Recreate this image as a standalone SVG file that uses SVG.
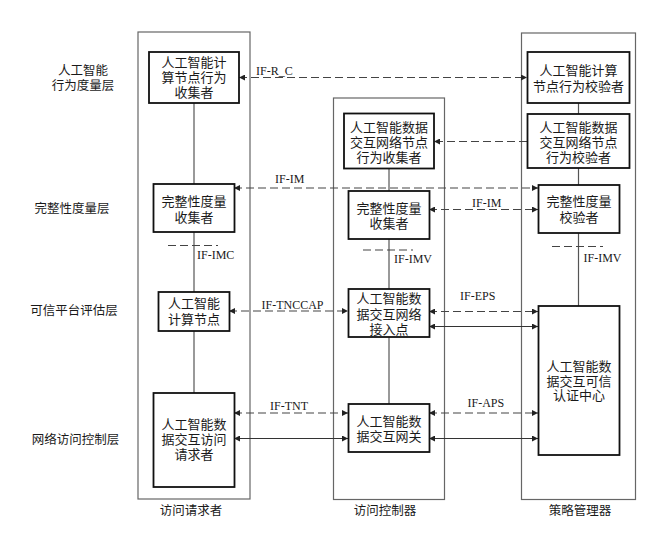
<svg xmlns="http://www.w3.org/2000/svg" width="656" height="535" viewBox="0 0 656 535">
<defs>
<style>
.outer{fill:none;stroke:#666;stroke-width:1.2}
.node{fill:#fff;stroke:#111;stroke-width:1.8}
.cn{font-family:"Liberation Serif","Noto Sans CJK SC",sans-serif;font-size:13px;fill:#1a1a1a;text-anchor:middle;dominant-baseline:central}
.row{font-family:"Liberation Serif","Noto Sans CJK SC",sans-serif;font-size:12.5px;fill:#1a1a1a;text-anchor:middle;dominant-baseline:central}
.lbl{font-family:"Liberation Serif","Times New Roman",serif;font-size:12px;fill:#1a1a1a}
.v{stroke:#555;stroke-width:1.2;fill:none}
.d{stroke:#444;stroke-width:1.2;stroke-dasharray:8 4;fill:none}
.s{stroke:#333;stroke-width:1.2;fill:none}
</style>
<marker id="ah" viewBox="0 0 10 10" refX="10" refY="5" markerWidth="9" markerHeight="6" markerUnits="userSpaceOnUse" orient="auto-start-reverse">
<path d="M0,0 L10,5 L0,10 z" fill="#222"/>
</marker>
</defs>
<rect width="656" height="535" fill="#fff"/>

<g id="row-labels">
<text class="row" x="83" y="70.5">人工智能<tspan x="83" dy="15">行为度量层</tspan></text>
<text class="row" x="72" y="209">完整性度量层</text>
<text class="row" x="74" y="311">可信平台评估层</text>
<text class="row" x="75.5" y="439.5">网络访问控制层</text>
</g>

<g id="access-requester">
<rect class="outer" x="138" y="32" width="112" height="467"/>
<text class="row" x="191" y="511">访问请求者</text>
</g>
<g id="access-controller">
<rect class="outer" x="333.5" y="98" width="111" height="401.5"/>
<text class="row" x="385" y="511">访问控制器</text>
</g>
<g id="policy-manager">
<rect class="outer" x="521.5" y="33" width="114" height="466.5"/>
<text class="row" x="580" y="511">策略管理器</text>
</g>

<g id="connectors">
<line class="v" x1="194" y1="103" x2="194" y2="184"/>
<line class="v" x1="194" y1="232" x2="194" y2="292"/>
<line class="v" x1="194" y1="331" x2="194" y2="393"/>
<line class="v" x1="389" y1="169" x2="389" y2="191"/>
<line class="v" x1="389" y1="239" x2="389" y2="289"/>
<line class="v" x1="389" y1="337" x2="389" y2="404"/>
<line class="v" x1="578.5" y1="103" x2="578.5" y2="114"/>
<line class="v" x1="578.5" y1="168" x2="578.5" y2="185"/>
<line class="v" x1="578.5" y1="233" x2="578.5" y2="306"/>

<line class="d" x1="168" y1="245.5" x2="218" y2="245.5"/>
<line class="d" x1="363" y1="250" x2="413" y2="250"/>
<line class="d" x1="552" y1="246.5" x2="603" y2="246.5"/>

<line class="d" x1="239" y1="77.5" x2="527" y2="77.5" marker-start="url(#ah)" marker-end="url(#ah)"/>
<line class="d" x1="527" y1="141.5" x2="434" y2="141.5" marker-end="url(#ah)"/>
<line class="d" x1="234" y1="188" x2="538" y2="188" marker-start="url(#ah)" marker-end="url(#ah)"/>
<line class="d" x1="429" y1="209.5" x2="538" y2="209.5" marker-start="url(#ah)" marker-end="url(#ah)"/>
<line class="d" x1="229" y1="311" x2="348" y2="311" marker-start="url(#ah)" marker-end="url(#ah)"/>
<line class="d" x1="429" y1="311.5" x2="538" y2="311.5" marker-start="url(#ah)" marker-end="url(#ah)"/>
<line class="s" x1="429" y1="326.5" x2="538" y2="326.5" marker-start="url(#ah)" marker-end="url(#ah)"/>
<line class="d" x1="234" y1="413" x2="348" y2="413" marker-start="url(#ah)" marker-end="url(#ah)"/>
<line class="s" x1="234" y1="438.5" x2="348" y2="438.5" marker-start="url(#ah)" marker-end="url(#ah)"/>
<line class="d" x1="429" y1="413" x2="538" y2="413" marker-start="url(#ah)" marker-end="url(#ah)"/>
<line class="s" x1="429" y1="438.5" x2="538" y2="438.5" marker-start="url(#ah)" marker-end="url(#ah)"/>

<text class="lbl" x="256" y="74.5">IF-R_C</text>
<text class="lbl" x="275" y="183">IF-IM</text>
<text class="lbl" x="472" y="206.5">IF-IM</text>
<text class="lbl" x="197" y="259">IF-IMC</text>
<text class="lbl" x="394" y="263">IF-IMV</text>
<text class="lbl" x="583.5" y="261.5">IF-IMV</text>
<text class="lbl" x="261.5" y="308.5">IF-TNCCAP</text>
<text class="lbl" x="460" y="299.5">IF-EPS</text>
<text class="lbl" x="270" y="410">IF-TNT</text>
<text class="lbl" x="467.5" y="406.5">IF-APS</text>
</g>

<g id="ai-node-behavior-collector">
<rect class="node" x="149" y="52" width="90" height="51"/>
<text class="cn" x="194" y="62">人工智能计<tspan x="194" dy="15">算节点行为</tspan><tspan x="194" dy="15">收集者</tspan></text>
</g>
<g id="integrity-collector-left">
<rect class="node" x="153.5" y="184" width="81" height="48"/>
<text class="cn" x="194" y="201">完整性度量<tspan x="194" dy="16">收集者</tspan></text>
</g>
<g id="ai-compute-node">
<rect class="node" x="158.5" y="292" width="71" height="39"/>
<text class="cn" x="194" y="303.5">人工智能<tspan x="194" dy="15">计算节点</tspan></text>
</g>
<g id="ai-access-requester">
<rect class="node" x="153.5" y="393" width="81" height="94"/>
<text class="cn" x="194" y="424">人工智能数<tspan x="194" dy="15">据交互访问</tspan><tspan x="194" dy="15">请求者</tspan></text>
</g>

<g id="net-node-behavior-collector">
<rect class="node" x="344" y="113.5" width="90" height="55"/>
<text class="cn" x="389" y="127">人工智能数据<tspan x="389" dy="15">交互网络节点</tspan><tspan x="389" dy="15">行为收集者</tspan></text>
</g>
<g id="integrity-collector-mid">
<rect class="node" x="348.5" y="191" width="81" height="48"/>
<text class="cn" x="389" y="208">完整性度量<tspan x="389" dy="15">收集者</tspan></text>
</g>
<g id="ai-access-point">
<rect class="node" x="348.5" y="289" width="81" height="48"/>
<text class="cn" x="389" y="298.5">人工智能数<tspan x="389" dy="15">据交互网络</tspan><tspan x="389" dy="15">接入点</tspan></text>
</g>
<g id="ai-gateway">
<rect class="node" x="348.5" y="404" width="81" height="48"/>
<text class="cn" x="389" y="421">人工智能数<tspan x="389" dy="15">据交互网关</tspan></text>
</g>

<g id="ai-node-behavior-verifier">
<rect class="node" x="527.5" y="52" width="102" height="51"/>
<text class="cn" x="578.5" y="70.5">人工智能计算<tspan x="578.5" dy="15">节点行为校验者</tspan></text>
</g>
<g id="net-node-behavior-verifier">
<rect class="node" x="527.5" y="114" width="102" height="54"/>
<text class="cn" x="578.5" y="127">人工智能数据<tspan x="578.5" dy="15">交互网络节点</tspan><tspan x="578.5" dy="14.5">行为校验者</tspan></text>
</g>
<g id="integrity-verifier">
<rect class="node" x="538.5" y="185" width="81" height="48"/>
<text class="cn" x="579" y="201.5">完整性度量<tspan x="579" dy="15">校验者</tspan></text>
</g>
<g id="trusted-auth-center">
<rect class="node" x="538.5" y="306" width="81" height="149"/>
<text class="cn" x="579" y="366">人工智能数<tspan x="579" dy="14.5">据交互可信</tspan><tspan x="579" dy="14.5">认证中心</tspan></text>
</g>
</svg>
